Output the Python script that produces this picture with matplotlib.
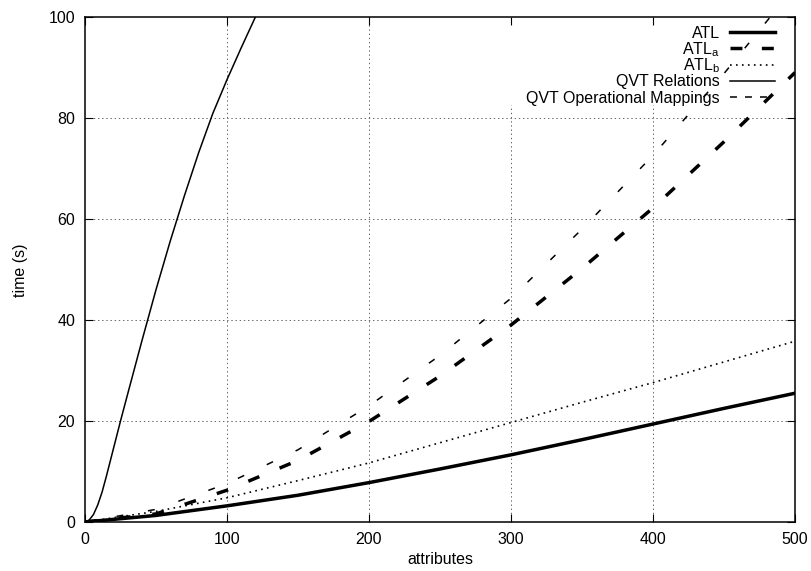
import matplotlib
matplotlib.use("Agg")
import matplotlib.pyplot as plt
from matplotlib.lines import Line2D

plt.rcParams["font.family"] = ["Liberation Sans", "DejaVu Sans"]
plt.rcParams["mathtext.default"] = "regular"
plt.rcParams["lines.scale_dashes"] = False

# values (time in seconds vs. number of attributes)
x_atl = [0, 50, 100, 150, 200, 250, 300, 350, 400, 450, 500]
atl = [0, 1.3, 3.2, 5.3, 7.8, 10.5, 13.3, 16.3, 19.4, 22.5, 25.5]
atl_a = [0, 1.6, 6.3, 12.2, 19.9, 28.9, 39.0, 50.2, 62.2, 75.3, 89.0]
atl_b = [0, 2.1, 4.8, 8.2, 11.7, 15.7, 19.7, 23.7, 27.6, 31.7, 35.8]
qvt_om = [0, 2.5, 7.6, 14.3, 23.0, 33.0, 44.3, 58.0, 72.6, 88.8, 106.0]

x_rel = [0, 3, 6, 9, 12, 15, 20, 25, 30, 40, 50, 60, 70, 80, 90, 100, 110, 120, 130]
qvt_rel = [0, 0.4, 1.5, 3.4, 5.9, 9.0, 14.5, 20.0, 25.3, 35.8, 46.0, 55.6, 64.6,
           73.1, 80.9, 87.6, 93.9, 100.0, 106.0]

labels = ["ATL", "ATL$_a$", "ATL$_b$", "QVT Relations", "QVT Operational Mappings"]


def main() -> None:
    fig = plt.figure(figsize=(8.11, 5.71), dpi=100)
    ax = fig.add_axes([85 / 811, 49 / 571, 710 / 811, 505 / 571])

    ax.set_xlim(0, 500)
    ax.set_ylim(0, 100)
    ax.set_xticks([0, 100, 200, 300, 400, 500])
    ax.set_yticks([0, 20, 40, 60, 80, 100])
    ax.tick_params(direction="in", length=6, width=0.8, top=True, right=True,
                   labelsize=11.5, pad=7)
    for s in ax.spines.values():
        s.set_linewidth(1.1)

    # gnuplot-style dotted grid, cut out behind the key
    grid_kw = dict(color="#666666", lw=0.7, ls=(0, (1, 2)), zorder=0.5)
    key_bottom = (522 - 105) / 505
    for gx in [100, 200, 300, 400]:
        ax.axvline(gx, ymax=1.0 if gx < 290 else key_bottom, **grid_kw)
    for gy in [20, 40, 60, 80]:
        ax.axhline(gy, **grid_kw)

    styles = [
        dict(lw=2.5, ls="-"),
        dict(lw=2.5, ls=(0, (8.6, 15.8))),
        dict(lw=1.2, ls=(0, (1.2, 3.1))),
        dict(lw=1.1, ls="-"),
        dict(lw=1.1, ls=(0, (5, 18))),
    ]
    key_styles = list(styles)
    key_styles[1] = dict(lw=2.5, ls=(0, (8.6, 14)))
    key_styles[4] = dict(lw=1.1, ls=(0, (5, 5.8)))

    series = [(x_atl, atl), (x_atl, atl_a), (x_atl, atl_b), (x_rel, qvt_rel), (x_atl, qvt_om)]
    for (xs, ys), st in zip(series, styles):
        ax.plot(xs, ys, color="black", zorder=3, **st)

    # key drawn by hand: right-aligned text, sample to its right
    rows_px = [32, 48.3, 64.6, 80.9, 97.2]
    tx = (720 - 85) / 710
    sx0, sx1 = (730 - 85) / 710, (775 - 85) / 710
    for lab, st, ry in zip(labels, key_styles, rows_px):
        yb = (522 - ry - 5.5) / 505
        yl = (522 - ry) / 505
        ax.text(tx, yb, lab, transform=ax.transAxes, ha="right", va="baseline",
                fontsize=11.5, zorder=2)
        ax.add_line(Line2D([sx0, sx1], [yl, yl], transform=ax.transAxes,
                           color="black", zorder=2, **st))

    fig.text(440 / 811, 1 - 560 / 571, "attributes", ha="center", va="center", fontsize=11.5)
    fig.text(20 / 811, 1 - 270 / 571, "time (s)", ha="center", va="center",
             rotation=90, fontsize=11.5)

    fig.savefig("out.png", dpi=100)


if __name__ == "__main__":
    main()
